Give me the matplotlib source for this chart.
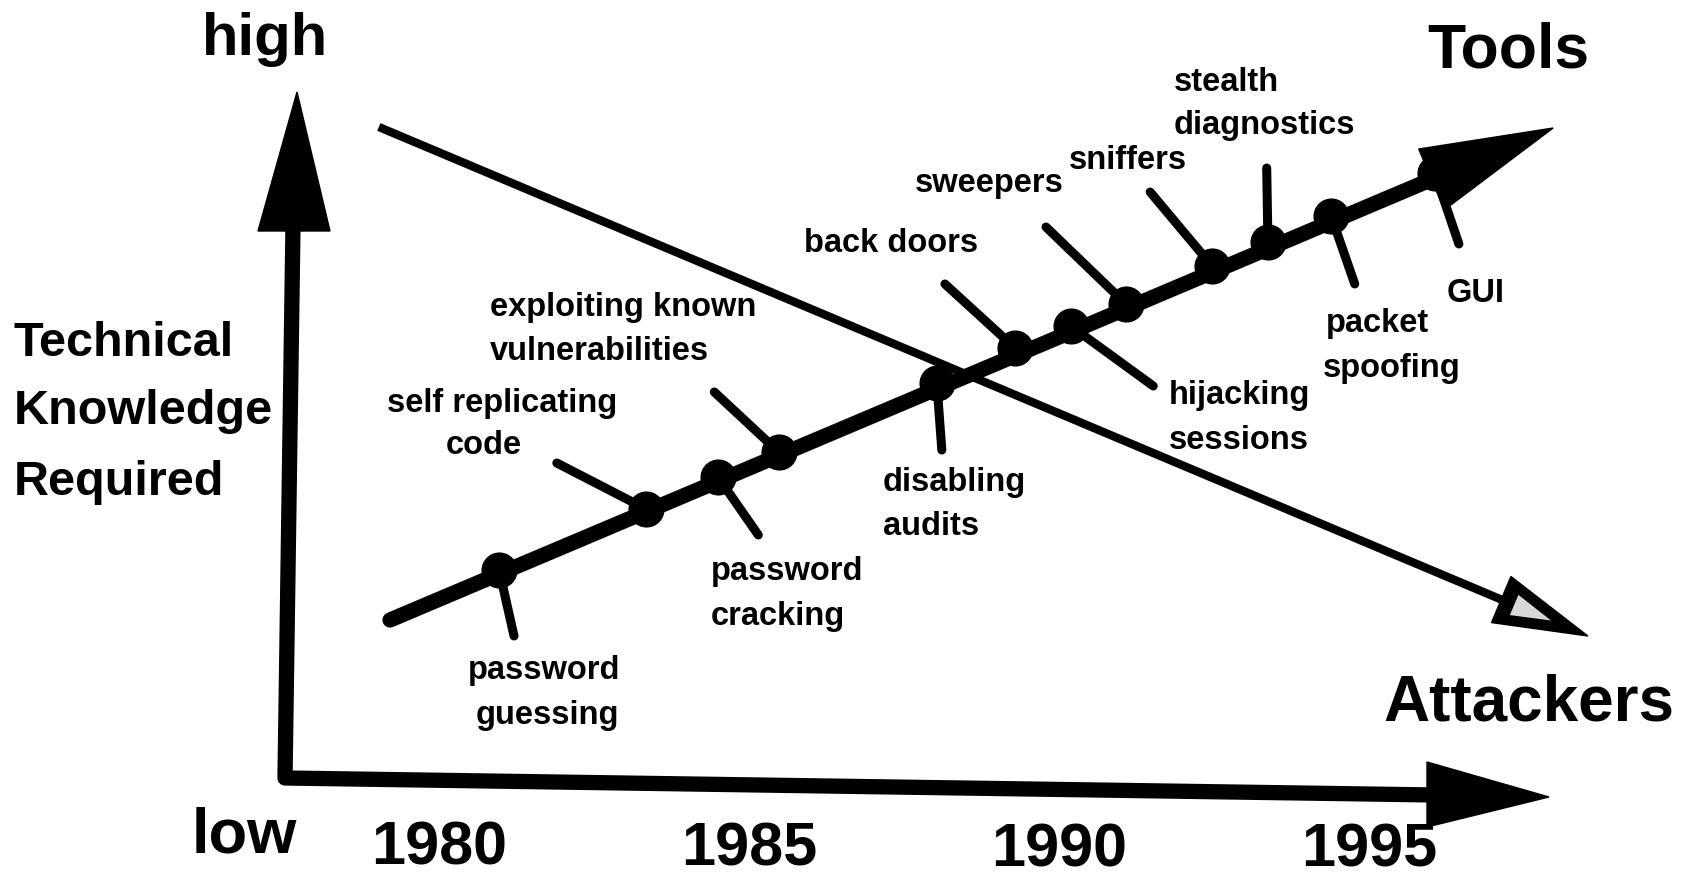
import numpy as np
import matplotlib
matplotlib.use("Agg")
import matplotlib.pyplot as plt
from matplotlib.patches import Polygon

# ---------------- data ----------------
tool_labels = ["password\nguessing", "self replicating\ncode", "password\ncracking",
               "exploiting known\nvulnerabilities", "disabling\naudits", "back doors",
               "hijacking\nsessions", "sweepers", "sniffers", "stealth\ndiagnostics",
               "packet\nspoofing", "GUI"]
tool_years = [1980.97, 1983.34, 1984.50, 1985.48, 1988.03, 1989.29,
              1990.19, 1991.08, 1992.47, 1993.37, 1994.39, 1996.06]
tool_knowledge = [31.0, 37.1, 40.3, 42.8, 49.7, 53.2,
                  55.4, 57.6, 61.4, 63.8, 66.4, 70.7]
stub_years = [1981.21, 1981.90, 1985.15, 1984.44, 1988.11, 1988.16,
              1991.52, 1989.79, 1991.47, 1993.35, 1994.77, 1996.45]
stub_knowledge = [24.4, 41.7, 34.5, 48.8, 43.0, 59.6,
                  49.4, 65.3, 68.8, 71.2, 59.6, 63.6]

tools_trend_years = [1979.21, 1997.97]
tools_trend_knowledge = [26.0, 75.2]
attackers_trend_years = [1979.03, 1998.53]
attackers_trend_knowledge = [75.3, 24.4]

year_ticks = [1980, 1985, 1990, 1995]

# ---------------- layout ----------------
W, H = 1697, 880
PX_PER_YEAR = 62.0
X1980 = 439.0
fig = plt.figure(figsize=(W / 100, H / 100), dpi=100)
fig.patch.set_facecolor("white")
ax = fig.add_axes([0, 0, 1, 1])
ax.set_xlim(1980 - X1980 / PX_PER_YEAR, 1980 + (W - X1980) / PX_PER_YEAR)
ax.set_ylim(0, 88)
ax.axis("off")

FONT = ["Liberation Sans", "DejaVu Sans"]


def to_px(year, k):
    return np.array([X1980 + (year - 1980) * PX_PER_YEAR, H - k * 10.0])


def F(p):
    """pixel (from top-left) -> figure fraction"""
    p = np.atleast_2d(p).astype(float)
    return np.column_stack([p[:, 0] / W, 1 - p[:, 1] / H])


def head(tip, direction, length, halfwidth):
    u = direction / np.linalg.norm(direction)
    v = np.array([-u[1], u[0]])
    b = tip - length * u
    return np.array([tip, b + halfwidth * v, b - halfwidth * v])


def ftext(x, y, s, size, ha="left", va="baseline"):
    fig.text(x / W, 1 - y / H, s, fontsize=size, fontweight="bold",
             family=FONT, ha=ha, va=va, color="black")


def partial(xs, ks, frac):
    return ([xs[0], xs[0] + frac * (xs[1] - xs[0])],
            [ks[0], ks[0] + frac * (ks[1] - ks[0])])


# ---- axes arrows (frame) ----
frame = np.array([[293, 225], [285, 778], [1435, 795]])
fpts = F(frame)
fig.add_artist(plt.Line2D(fpts[:, 0], fpts[:, 1], transform=fig.transFigure,
                          color="black", lw=11, solid_joinstyle="round",
                          solid_capstyle="butt"))
vhead = np.array([[297, 92], [258, 231], [330, 231]])
fig.add_artist(Polygon(F(vhead), closed=True, transform=fig.transFigure,
                       facecolor="black", edgecolor="black", lw=1))
hhead = np.array([[1549, 797], [1427, 762], [1427, 827]])
fig.add_artist(Polygon(F(hhead), closed=True, transform=fig.transFigure,
                       facecolor="black", edgecolor="black", lw=1))

# ---- attackers trend ----
a0 = to_px(attackers_trend_years[0], attackers_trend_knowledge[0])
a1 = to_px(attackers_trend_years[1], attackers_trend_knowledge[1])
ad = a1 - a0
au = ad / np.linalg.norm(ad)
xs, ks = partial(attackers_trend_years, attackers_trend_knowledge,
                 1 - 80 / np.linalg.norm(ad))
ax.plot(xs, ks, color="black", lw=6, solid_capstyle="butt")
outer = head(a1, ad, 94, 25)
fig.add_artist(Polygon(F(outer), closed=True, transform=fig.transFigure,
                       facecolor="black", edgecolor="black", lw=1))
inner = head(a1 - 40 * au, ad, 40, 11)
fig.add_artist(Polygon(F(inner), closed=True, transform=fig.transFigure,
                       facecolor="#d8d8d8", edgecolor="none", lw=0,
                       hatch="....", zorder=3))

# ---- tools trend ----
t0 = to_px(tools_trend_years[0], tools_trend_knowledge[0])
t1 = to_px(tools_trend_years[1], tools_trend_knowledge[1])
td = t1 - t0
xs, ks = partial(tools_trend_years, tools_trend_knowledge,
                 1 - 100 / np.linalg.norm(td))
ax.plot(xs, ks, color="black", lw=11, solid_capstyle="round", zorder=4)
thead = head(t1, td, 132, 33)
fig.add_artist(Polygon(F(thead), closed=True, transform=fig.transFigure,
                       facecolor="black", edgecolor="black", lw=1, zorder=4))

# stubs and markers
for yr, k, sy, sk in zip(tool_years, tool_knowledge, stub_years, stub_knowledge):
    ax.plot([yr, sy], [k, sk], color="black", lw=6.5, solid_capstyle="round", zorder=4)
ax.plot(tool_years, tool_knowledge, "o", color="black", ms=25, zorder=5)

# tool labels: (left x, baseline) per line in pixels
label_lines = [
    [(468, 679), (476, 724)],
    [(387, 412), (446, 454)],
    [(711, 580), (711, 625)],
    [(490, 316), (490, 360)],
    [(883, 491), (883, 535)],
    [(804, 252)],
    [(1169, 404), (1169, 449)],
    [(915, 192)],
    [(1069, 169)],
    [(1174, 91), (1174, 134)],
    [(1326, 332), (1323, 377)],
    [(1447, 302)],
]
for lab, poss in zip(tool_labels, label_lines):
    for line, (x, y) in zip(lab.split("\n"), poss):
        ftext(x, y, line, 23.5)

# year tick labels
year_baselines = [864, 865, 866, 866]
for yr, yb in zip(year_ticks, year_baselines):
    x = to_px(yr, 0)[0]
    ftext(x, yb, str(yr), 44, ha="center")

# axis words
ftext(265, 55, "high", 43, ha="center")
ftext(244, 852, "low", 45.5, ha="center")
for s, yb in zip(["Technical", "Knowledge", "Required"], [356, 424, 495]):
    ftext(14, yb, s, 35)
ftext(1508, 67, "Tools", 45, ha="center")
ftext(1529, 720, "Attackers", 46, ha="center")

fig.savefig("out.png", dpi=100, facecolor="white")
